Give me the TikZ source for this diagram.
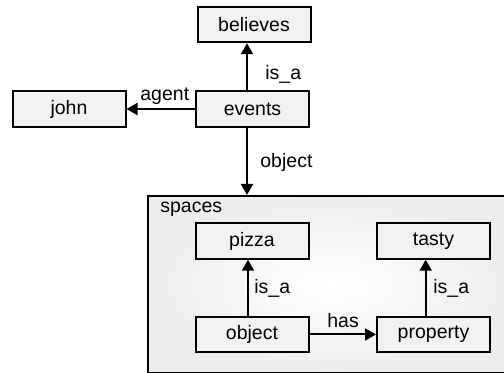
\documentclass[tikz,border=0pt]{standalone}
\usepackage{fontspec}
\setmainfont{Liberation Sans}
\usetikzlibrary{arrows.meta}

\begin{document}
\begin{tikzpicture}[x=0.5pt, y=-0.5pt, font=\fontsize{9.75}{11}\selectfont,
	box/.style={draw, line width=1pt, fill=black!5, minimum width=56.5pt, minimum height=17.75pt, inner sep=0pt},
	rel/.style={line width=1pt, -{Triangle[length=5.5pt,width=6pt]}},
	lbl/.style={anchor=base west, inner sep=0pt}]
	\useasboundingbox (0,0) rectangle (504,373);
	\clip (0,0) rectangle (504,373);
	\node[draw, line width=1pt, shade, inner color=white, outer color=black!7, minimum width=184pt, minimum height=88.5pt] (spaces) at (332,284.5) {};
	\node[lbl] (spaceslbl) at (160,213) {spaces};
	\node[box] (believes) at (254,24.5) {believes};
	\node[box] (events) at (252.5,109) {events};
	\node[box] (john) at (69,109) {john};
	\node[box] (pizza) at (252,241) {pizza};
	\node[box] (tasty) at (433.5,241) {tasty};
	\node[box] (object) at (252,334.5) {object};
	\node[box] (property) at (433.5,334.5) {property};
	\coordinate (up1) at ([xshift=-2.75pt]events.north);
	\coordinate (down1) at ([xshift=-2.75pt]events.south);
	\coordinate (up2) at ([xshift=-2pt]object.north);
	\coordinate (up3) at ([xshift=-3.9pt]property.north);
	\draw[rel] (up1) -- (up1 |- believes.south);
	\draw[rel] (events.west) -- (john.east);
	\draw[rel] (down1) -- (down1 |- spaces.north);
	\draw[rel] (up2) -- (up2 |- pizza.south);
	\draw[rel] (up3) -- (up3 |- tasty.south);
	\draw[rel] (object.east) -- (property.west);
	\node[lbl] (isa1) at (265,80) {is\_a};
	\node[lbl] (agent) at (140,101) {agent};
	\node[lbl] (objectlbl) at (260,168) {object};
	\node[lbl] (isa2) at (254,294) {is\_a};
	\node[lbl] (isa3) at (433,294) {is\_a};
	\node[lbl] (has) at (327,328) {has};
\end{tikzpicture}
\end{document}
